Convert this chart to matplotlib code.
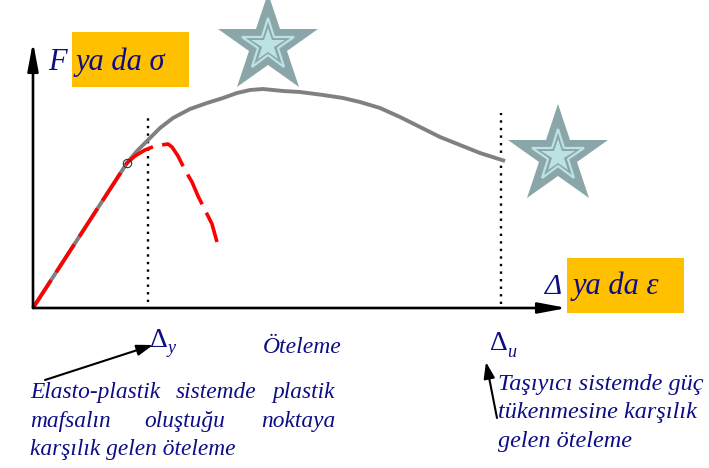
import matplotlib

matplotlib.use("Agg")
import matplotlib.pyplot as plt
from matplotlib.patches import Rectangle

# curves in diagram units (origin at the axes corner, 1 unit ~ 1 px)
gray_x = [0, 94, 104, 115, 127, 140, 157, 174, 190, 204, 217, 230, 250, 267, 290, 310,
          327, 347, 367, 387, 407, 427, 447, 472]
gray_y = [0, 145, 157, 168, 180, 190, 199, 205, 210, 215, 218, 219, 217, 216, 213, 210,
          206, 200, 191, 181, 171, 163, 155, 147]
red_x = [0, 94, 102, 112, 122, 135, 139, 145, 152, 159, 165, 172, 179, 184]
red_y = [0, 145, 152, 158, 162, 164, 161, 152, 138, 126, 112, 98, 84, 66]
yield_pt = (94, 145)
delta_y = 115
delta_u = 468
stars = [(235, 263), (525, 152)]

navy = "#0d0d85"
yellow = "#FFC000"
star_dark = "#8BA6A9"
star_light = "#BCE2E5"
serif = "Liberation Serif"

fig = plt.figure(figsize=(7.09, 4.68), dpi=100)
ax = fig.add_axes([0, 0, 1, 1])
ax.set_xlim(-33, 676)
ax.set_ylim(-160, 308)
ax.axis("off")

# axes with arrow heads
arrow_kw = dict(arrowstyle="-|>,head_length=0.85,head_width=0.16", color="black", lw=1.9,
                mutation_scale=20, shrinkA=0, shrinkB=0)
ax.annotate("", xy=(0, 266), xytext=(0, 0), arrowprops=arrow_kw)
ax.annotate("", xy=(534, 0), xytext=(0, 0), arrowprops=arrow_kw)

# dotted guide lines
ax.plot([delta_y, delta_y], [6, 191], ls=(0, (1, 2.2)), color="black", lw=1.7)
ax.plot([delta_u, delta_u], [4, 195], ls=(0, (1, 2.2)), color="black", lw=1.7)

# curves
ax.plot(gray_x, gray_y, color="#808080", lw=2.8, solid_capstyle="butt", solid_joinstyle="round")
ax.plot(red_x, red_y, color="red", lw=2.6, ls=(0, (9.2, 2.6)), dash_capstyle="butt")
ax.plot(*yield_pt, marker="o", ms=6, mfc="none", mec="#333333", mew=0.8)

# stars
for cx, cy in stars:
    ax.plot(cx, cy, marker="*", ms=75, color=star_dark, mew=0)
    ax.plot(cx, cy, marker="*", ms=39, mfc=star_dark, mec=star_light, mew=1.6)
    ax.plot(cx, cy, marker="*", ms=25, color=star_light, mew=0)

# yellow label boxes
ax.add_patch(Rectangle((39, 221), 117, 55, color=yellow, lw=0))
ax.add_patch(Rectangle((534, -5), 117, 55, color=yellow, lw=0))

txt = dict(color=navy, family=serif, style="italic", va="baseline")
ax.text(15, 238, "F", fontsize=22, **txt)
ax.text(43, 238, "ya da σ", fontsize=22, **txt)
ax.text(512, 14, "Δ", fontsize=21, **txt)
ax.text(540, 14, "ya da ε", fontsize=22, **txt)

ax.text(117, -39, "Δ", fontsize=20, color=navy, family=serif, va="baseline")
ax.text(134, -45, "y", fontsize=13, **txt)
ax.text(457, -42, "Δ", fontsize=20, color=navy, family=serif, va="baseline")
ax.text(474, -49, "u", fontsize=13, **txt)
ax.text(230, -45, "Öteleme", fontsize=17, **txt)

# left note, justified by hand
ax.text(-3, -90, "Elasto-plastik", fontsize=16.8, ha="left", **txt)
ax.text(183, -90, "sistemde", fontsize=16.8, ha="center", **txt)
ax.text(302, -90, "plastik", fontsize=16.8, ha="right", **txt)
ax.text(-3, -119, "mafsalın", fontsize=16.8, ha="left", **txt)
ax.text(152, -119, "oluştuğu", fontsize=16.8, ha="center", **txt)
ax.text(302, -119, "noktaya", fontsize=16.8, ha="right", **txt)
ax.text(-3, -147, "karşılık gelen öteleme", fontsize=16.8, ha="left", **txt)

# right note
ax.text(465, -82, "Taşıyıcı sistemde güç", fontsize=17.5, ha="left", **txt)
ax.text(465, -110, "tükenmesine karşılık", fontsize=17.5, ha="left", **txt)
ax.text(465, -139, "gelen öteleme", fontsize=17.5, ha="left", **txt)

note_kw = dict(arrowstyle="-|>,head_length=0.65,head_width=0.22", color="black", lw=1.5,
               mutation_scale=15, shrinkA=0, shrinkB=0)
ax.annotate("", xy=(120, -37), xytext=(12, -72), arrowprops=note_kw)
ax.annotate("", xy=(453, -54), xytext=(464, -110), arrowprops=note_kw)

fig.savefig("out.png", dpi=100)
